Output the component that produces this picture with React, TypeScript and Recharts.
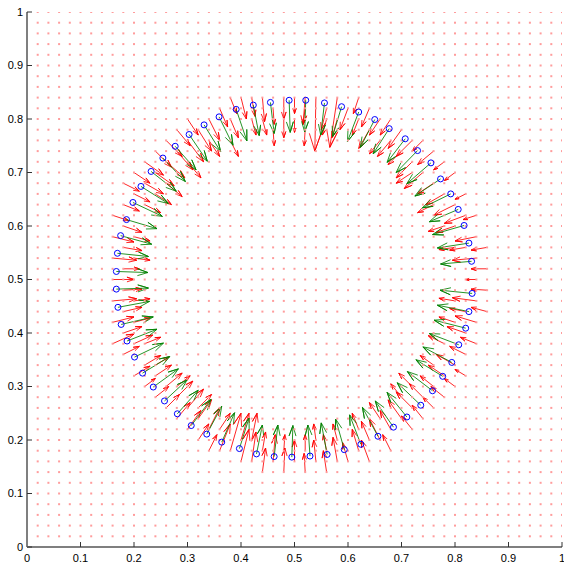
import { ComposedChart, XAxis, YAxis, Scatter, Line } from "recharts"

// axis ticks (0..1 by 0.1) and the 0.02 lattice of the quiver field
const ticks = [0, 0.1, 0.2, 0.3, 0.4, 0.5, 0.6, 0.7, 0.8, 0.9, 1]
const lattice = [
  0.02, 0.04, 0.06, 0.08, 0.1, 0.12, 0.14, 0.16, 0.18, 0.2,
  0.22, 0.24, 0.26, 0.28, 0.3, 0.32, 0.34, 0.36, 0.38, 0.4,
  0.42, 0.44, 0.46, 0.48, 0.5, 0.52, 0.54, 0.56, 0.58, 0.6,
  0.62, 0.64, 0.66, 0.68, 0.7, 0.72, 0.74, 0.76, 0.78, 0.8,
  0.82, 0.84, 0.86, 0.88, 0.9, 0.92, 0.94, 0.96, 0.98, 1,
]

// blue ring markers (going counter-clockwise from the top)
const ringX = [
  0.49, 0.455, 0.423, 0.391, 0.359, 0.331, 0.303, 0.277, 0.254, 0.232, 0.213, 0.198, 0.186, 0.175, 0.169, 0.167,
  0.167, 0.17, 0.176, 0.187, 0.201, 0.216, 0.236, 0.257, 0.281, 0.307, 0.336, 0.364, 0.397, 0.429, 0.462, 0.495,
  0.529, 0.561, 0.593, 0.624, 0.656, 0.685, 0.71, 0.736, 0.758, 0.777, 0.794, 0.807, 0.82, 0.826, 0.832,
  0.831, 0.826, 0.817, 0.806, 0.792, 0.773, 0.755, 0.73, 0.707, 0.677, 0.65, 0.62, 0.588, 0.556, 0.521,
]
const ringY = [
  0.835, 0.831, 0.826, 0.818, 0.804, 0.789, 0.771, 0.749, 0.727, 0.702, 0.674, 0.644, 0.612, 0.582, 0.549, 0.515,
  0.482, 0.448, 0.416, 0.385, 0.355, 0.325, 0.299, 0.273, 0.249, 0.227, 0.211, 0.196, 0.184, 0.174, 0.169, 0.168,
  0.17, 0.173, 0.182, 0.192, 0.207, 0.224, 0.243, 0.265, 0.292, 0.319, 0.345, 0.378, 0.409, 0.44, 0.474,
  0.534, 0.568, 0.601, 0.631, 0.66, 0.688, 0.718, 0.741, 0.763, 0.782, 0.799, 0.813, 0.823, 0.83, 0.835,
]

// green vectors attached to the ring markers
const greenU = [
  0.002, 0.007, 0.011, 0.02, 0.026, 0.031, 0.034, 0.039, 0.042, 0.047, 0.051, 0.055, 0.057, 0.058, 0.058, 0.059,
  0.06, 0.059, 0.06, 0.056, 0.054, 0.051, 0.047, 0.042, 0.039, 0.037, 0.028, 0.024, 0.018, 0.011, 0.007, 0.002,
  -0.004, -0.011, -0.016, -0.021, -0.029, -0.034, -0.037, -0.044, -0.047, -0.05, -0.054, -0.055, -0.059, -0.059, -0.06,
  -0.058, -0.059, -0.059, -0.054, -0.053, -0.048, -0.045, -0.04, -0.034, -0.03, -0.027, -0.021, -0.017, -0.007, -0.002,
]
const greenV = [
  -0.06, -0.058, -0.057, -0.059, -0.053, -0.05, -0.05, -0.044, -0.044, -0.037, -0.032, -0.026, -0.017, -0.016, -0.006, -0.002,
  0.002, 0.011, 0.014, 0.022, 0.026, 0.031, 0.034, 0.039, 0.044, 0.049, 0.052, 0.055, 0.057, 0.054, 0.059, 0.059,
  0.058, 0.059, 0.057, 0.055, 0.054, 0.049, 0.046, 0.042, 0.036, 0.031, 0.029, 0.021, 0.015, 0.012, 0.006,
  -0.005, -0.009, -0.017, -0.023, -0.026, -0.032, -0.039, -0.041, -0.044, -0.047, -0.052, -0.055, -0.056, -0.06, -0.059,
]

// red field vectors on lattice points near the ring: [x, y, u, v]
const redField: [number, number, number, number][] = [
  // top
  [0.4, 0.84, 0.01, -0.04], [0.42, 0.84, 0.006, -0.035], [0.44, 0.84, 0.004, -0.045], [0.46, 0.82, 0.002, -0.03],
  [0.48, 0.84, 0, -0.04], [0.5, 0.84, 0, -0.03], [0.52, 0.84, -0.004, -0.05], [0.54, 0.84, -0.002, -0.1],
  [0.56, 0.82, -0.01, -0.04], [0.58, 0.84, -0.014, -0.093], [0.44, 0.8, 0.008, -0.03], [0.48, 0.8, 0, -0.035],
  [0.5, 0.8, 0, -0.025], [0.52, 0.82, -0.004, -0.03], [0.56, 0.8, -0.008, -0.03], [0.6, 0.82, -0.015, -0.04],
  [0.62, 0.84, -0.01, -0.03], [0.46, 0.78, 0.002, -0.03], [0.52, 0.78, -0.002, -0.03], [0.42, 0.8, 0.008, -0.03],
  [0.58, 0.8, -0.01, -0.035], [0.62, 0.8, -0.012, -0.03],
  // upper right
  [0.64, 0.82, -0.015, -0.035], [0.66, 0.8, -0.02, -0.03], [0.64, 0.78, -0.02, -0.035], [0.68, 0.8, -0.02, -0.03],
  [0.7, 0.78, -0.025, -0.035], [0.68, 0.76, -0.025, -0.03], [0.72, 0.76, -0.03, -0.03], [0.74, 0.76, -0.02, -0.02],
  [0.72, 0.72, -0.03, -0.03], [0.76, 0.74, -0.03, -0.025], [0.74, 0.7, -0.035, -0.03], [0.78, 0.72, -0.02, -0.015],
  [0.76, 0.68, -0.03, -0.02], [0.8, 0.7, -0.02, -0.015], [0.78, 0.66, -0.035, -0.02], [0.8, 0.64, -0.04, -0.02],
  [0.82, 0.66, -0.02, -0.01], [0.82, 0.62, -0.04, -0.015], [0.84, 0.62, -0.025, -0.008], [0.8, 0.6, -0.035, -0.012],
  [0.66, 0.76, -0.02, -0.025], [0.7, 0.74, -0.025, -0.025], [0.72, 0.7, -0.03, -0.02], [0.76, 0.64, -0.03, -0.015],
  [0.78, 0.6, -0.03, -0.01],
  // right
  [0.84, 0.58, -0.04, -0.008], [0.86, 0.56, -0.03, -0.005], [0.82, 0.56, -0.03, -0.005], [0.84, 0.54, -0.045, -0.004],
  [0.86, 0.52, -0.03, 0], [0.84, 0.5, -0.02, 0], [0.86, 0.48, -0.03, 0.002], [0.84, 0.46, -0.045, 0.006],
  [0.82, 0.44, -0.03, 0.006], [0.86, 0.44, -0.03, 0.008], [0.84, 0.42, -0.04, 0.012], [0.82, 0.4, -0.035, 0.012],
  [0.84, 0.38, -0.03, 0.012], [0.82, 0.36, -0.03, 0.015], [0.8, 0.34, -0.035, 0.02], [0.82, 0.32, -0.02, 0.012],
  [0.8, 0.56, -0.03, -0.004], [0.8, 0.46, -0.03, 0.005], [0.8, 0.42, -0.03, 0.01], [0.78, 0.38, -0.03, 0.015],
  // lower right
  [0.78, 0.32, -0.03, 0.02], [0.8, 0.3, -0.02, 0.015], [0.76, 0.3, -0.025, 0.02], [0.78, 0.28, -0.025, 0.02],
  [0.74, 0.28, -0.025, 0.025], [0.76, 0.26, -0.02, 0.02], [0.72, 0.26, -0.03, 0.03], [0.74, 0.24, -0.02, 0.025],
  [0.7, 0.24, -0.025, 0.035], [0.72, 0.22, -0.02, 0.025], [0.68, 0.22, -0.02, 0.035], [0.66, 0.2, -0.02, 0.04],
  [0.68, 0.18, -0.015, 0.03], [0.64, 0.2, -0.015, 0.035], [0.64, 0.16, -0.015, 0.04], [0.62, 0.18, -0.012, 0.04],
  [0.6, 0.16, -0.01, 0.035], [0.76, 0.34, -0.025, 0.018], [0.72, 0.3, -0.025, 0.025], [0.7, 0.28, -0.02, 0.025],
  [0.66, 0.24, -0.02, 0.03], [0.62, 0.22, -0.012, 0.03],
  // bottom
  [0.58, 0.16, -0.008, 0.045], [0.56, 0.14, -0.006, 0.04], [0.56, 0.18, -0.006, 0.03], [0.54, 0.16, -0.004, 0.04],
  [0.52, 0.14, -0.002, 0.035], [0.52, 0.18, 0, 0.03], [0.5, 0.16, 0, 0.04], [0.48, 0.14, 0.002, 0.045],
  [0.46, 0.16, 0.004, 0.05], [0.44, 0.14, 0.006, 0.045], [0.42, 0.16, 0.008, 0.055], [0.4, 0.16, 0.015, 0.06],
  [0.38, 0.18, 0.02, 0.07], [0.4, 0.2, 0.015, 0.05], [0.36, 0.18, 0.02, 0.05], [0.58, 0.2, -0.008, 0.03],
  [0.54, 0.2, -0.004, 0.03], [0.48, 0.18, 0.002, 0.03], [0.44, 0.18, 0.006, 0.035], [0.42, 0.2, 0.01, 0.05],
  // lower left
  [0.34, 0.18, 0.015, 0.03], [0.34, 0.22, 0.02, 0.04], [0.32, 0.2, 0.02, 0.03], [0.3, 0.22, 0.025, 0.035],
  [0.32, 0.24, 0.025, 0.035], [0.28, 0.24, 0.025, 0.03], [0.3, 0.26, 0.03, 0.035], [0.26, 0.26, 0.025, 0.025],
  [0.28, 0.28, 0.03, 0.03], [0.24, 0.28, 0.025, 0.02], [0.26, 0.3, 0.03, 0.025], [0.22, 0.3, 0.02, 0.015],
  [0.24, 0.32, 0.03, 0.02], [0.2, 0.32, 0.03, 0.018], [0.22, 0.34, 0.03, 0.018], [0.18, 0.36, 0.03, 0.015],
  [0.2, 0.38, 0.035, 0.016], [0.36, 0.22, 0.02, 0.03], [0.32, 0.26, 0.025, 0.025], [0.28, 0.3, 0.025, 0.02],
  [0.24, 0.34, 0.025, 0.015], [0.22, 0.38, 0.03, 0.012],
  // left
  [0.16, 0.38, 0.04, 0.018], [0.18, 0.4, 0.035, 0.012], [0.16, 0.42, 0.04, 0.01], [0.18, 0.44, 0.035, 0.008],
  [0.16, 0.46, 0.045, 0.004], [0.18, 0.48, 0.035, 0.002], [0.16, 0.5, 0.04, 0], [0.18, 0.52, 0.03, 0],
  [0.16, 0.54, 0.045, -0.004], [0.18, 0.56, 0.035, -0.006], [0.16, 0.58, 0.04, -0.01], [0.18, 0.6, 0.035, -0.012],
  [0.16, 0.62, 0.03, -0.01], [0.2, 0.42, 0.03, 0.008], [0.2, 0.46, 0.03, 0.004], [0.2, 0.54, 0.03, -0.004],
  [0.2, 0.58, 0.03, -0.008],
  // upper left
  [0.18, 0.64, 0.03, -0.012], [0.2, 0.66, 0.03, -0.015], [0.18, 0.68, 0.03, -0.015], [0.22, 0.68, 0.035, -0.02],
  [0.2, 0.7, 0.03, -0.02], [0.24, 0.7, 0.035, -0.025], [0.22, 0.72, 0.035, -0.025], [0.26, 0.72, 0.035, -0.03],
  [0.24, 0.74, 0.03, -0.03], [0.28, 0.74, 0.03, -0.035], [0.26, 0.76, 0.03, -0.03], [0.3, 0.76, 0.03, -0.04],
  [0.28, 0.78, 0.025, -0.03], [0.32, 0.78, 0.025, -0.04], [0.3, 0.8, 0.02, -0.03], [0.34, 0.8, 0.02, -0.04],
  [0.36, 0.82, 0.015, -0.035], [0.38, 0.8, 0.015, -0.035], [0.38, 0.84, 0.012, -0.03], [0.22, 0.64, 0.03, -0.015],
  [0.24, 0.66, 0.03, -0.02], [0.26, 0.68, 0.03, -0.025], [0.3, 0.72, 0.025, -0.03], [0.34, 0.76, 0.02, -0.03],
  [0.38, 0.76, 0.015, -0.03],
]

// quiver-style arrow head (fraction of the arrow length)
const HEAD = 0.33

type Pt = { x: number; y: number | null }

function arrow(x: number, y: number, u: number, v: number): Pt[] {
  const tx = x + u
  const ty = y + v
  return [
    { x, y },
    { x: tx, y: ty },
    { x: tx - HEAD * (u + HEAD * v), y: ty - HEAD * (v - HEAD * u) },
    { x: tx, y: ty },
    { x: tx - HEAD * (u - HEAD * v), y: ty - HEAD * (v + HEAD * u) },
    { x, y: null }, // break before the next arrow
  ]
}

const dots = lattice.flatMap((x) => lattice.map((y) => ({ x, y })))
const ring = ringX.map((x, i) => ({ x, y: ringY[i] }))
const redPaths = redField.flatMap(([x, y, u, v]) => arrow(x, y, u, v))
const greenPaths = ringX.flatMap((x, i) => arrow(x, ringY[i], greenU[i], greenV[i]))

const tickStyle = { fill: "#000", fontSize: 11, fontFamily: "Liberation Sans, Arial, sans-serif" }

const Dot = (p: any) => <rect x={p.cx - 1} y={p.cy - 1} width={2} height={2} fill="#ff9c9c" />
const Ring = (p: any) => <circle cx={p.cx} cy={p.cy} r={3} fill="none" stroke="#0000ff" strokeWidth={1} />

export default function App() {
  return (
    <div>
      <style>{"body{margin:0;overflow:hidden}"}</style>
      <ComposedChart width={564} height={565} margin={{ top: 12, right: 2, left: 0, bottom: 0 }}>
        <XAxis
          type="number"
          dataKey="x"
          domain={[0, 1]}
          ticks={ticks}
          interval={0}
          allowDataOverflow
          height={18}
          tickSize={-5}
          tickMargin={12}
          tick={tickStyle}
          tickFormatter={(v) => String(v)}
          axisLine={{ stroke: "#7f7f7f", strokeWidth: 2 }}
          tickLine={{ stroke: "#333" }}
        />
        <YAxis
          type="number"
          dataKey="y"
          domain={[0, 1]}
          ticks={ticks}
          interval={0}
          allowDataOverflow
          width={27}
          tickSize={-5}
          tickMargin={9}
          tick={tickStyle}
          tickFormatter={(v) => String(v)}
          axisLine={{ stroke: "#7f7f7f", strokeWidth: 2 }}
          tickLine={{ stroke: "#333" }}
        />
        <Scatter data={dots} shape={Dot} isAnimationActive={false} />
        <Line
          data={redPaths}
          dataKey="y"
          stroke="#ff0000"
          strokeOpacity={0.85}
          strokeWidth={1}
          dot={false}
          activeDot={false}
          isAnimationActive={false}
        />
        <Line
          data={greenPaths}
          dataKey="y"
          stroke="#008000"
          strokeOpacity={0.85}
          strokeWidth={1}
          dot={false}
          activeDot={false}
          isAnimationActive={false}
        />
        <Scatter data={ring} shape={Ring} isAnimationActive={false} />
      </ComposedChart>
    </div>
  )
}
